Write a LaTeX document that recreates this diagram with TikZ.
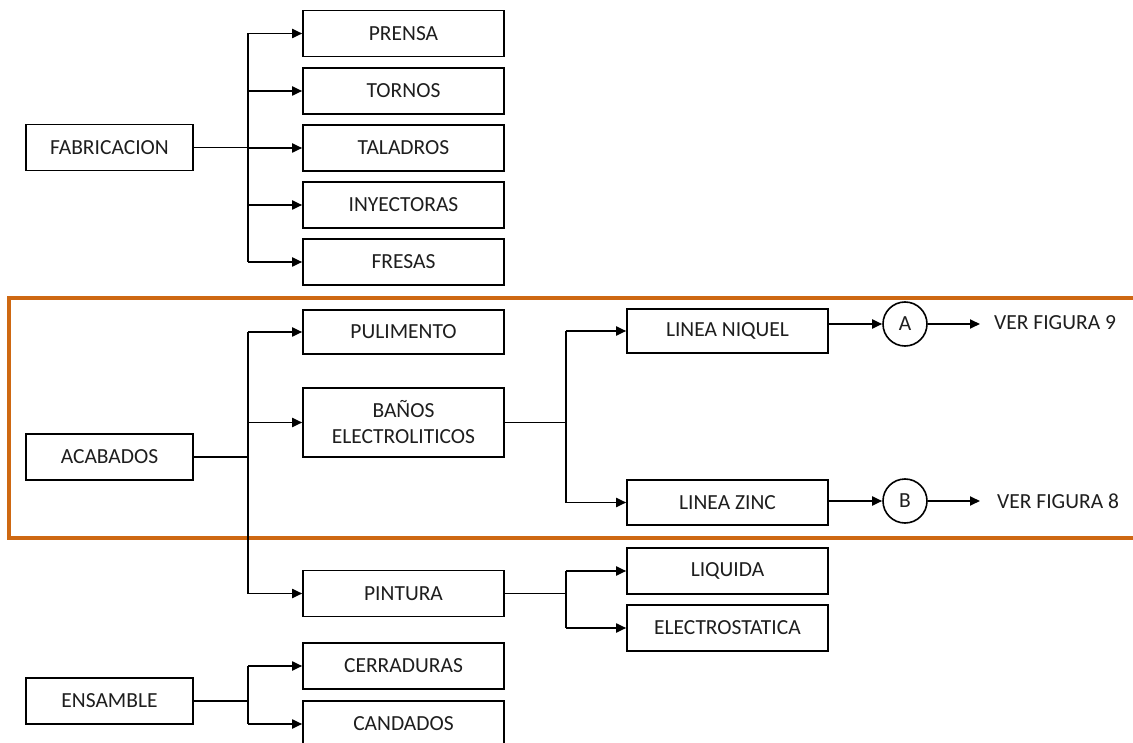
\documentclass[tikz,border=0pt]{standalone}
\usepackage{fontspec}
\setmainfont{Carlito}
\usetikzlibrary{arrows.meta}
\definecolor{frameorange}{RGB}{206,104,18}
\definecolor{ink}{RGB}{30,30,30}
\tikzset{
  box/.style={draw=black, line width=1.6pt, fill=white, minimum width=201pt, minimum height=46pt,
              inner sep=2pt, align=center, font=\fontsize{21.5}{26}\selectfont, text=ink},
  rootbox/.style={box, minimum width=167pt},
  tag/.style={draw=black, line width=1.6pt, circle, minimum size=44pt, inner sep=0pt,
              font=\fontsize{21.5}{24}\selectfont, text=ink},
  note/.style={anchor=west, inner sep=0pt, font=\fontsize{21.5}{24}\selectfont, text=ink},
  link/.style={line width=1.8pt, black},
  arr/.style={link, -{Triangle[length=10pt,width=9pt]}},
}
\begin{document}
\begin{tikzpicture}[x=1pt,y=-1pt]
\useasboundingbox (0,0) rectangle (1133,743);

% --- Fabricacion ---
\node[rootbox] (fab) at (109.5,147.5) {FABRICACION};
\node[box] (prensa)   at (403.5,33.5)  {PRENSA};
\node[box] (tornos)   at (403.5,91)    {TORNOS};
\node[box] (taladros) at (403.5,148)   {TALADROS};
\node[box] (inyect)   at (403.5,205)   {INYECTORAS};
\node[box] (fresas)   at (403.5,262)   {FRESAS};
\coordinate (jf) at (248,147.5);
\draw[link] (fab.east) -- (jf);
\draw[link] (jf |- prensa) -- (jf |- fresas);
\foreach \n in {prensa,tornos,taladros,inyect,fresas}
  \draw[arr] (jf |- \n) -- (\n.west);

% --- Acabados (framed group) ---
\draw[frameorange, line width=4pt] (9,298) rectangle (1145,538);
\node[rootbox] (acab) at (109.5,457) {ACABADOS};
\node[box, minimum height=44pt] (pul) at (403.5,332) {PULIMENTO};
\node[box, minimum height=69pt] (banos) at (403.5,422.5) {BAÑOS\\ELECTROLITICOS};
\node[box] (pint) at (403.5,593.5) {PINTURA};
\coordinate (ja) at (248,457);
\draw[link] (acab.east) -- (ja);
\draw[link] (ja |- pul) -- (ja |- pint);
\foreach \n in {pul,banos,pint}
  \draw[arr] (ja |- \n) -- (\n.west);

\node[box, minimum height=44pt] (niq) at (727.5,331) {LINEA NIQUEL};
\node[box, minimum height=45pt] (zinc) at (727.5,502.5) {LINEA ZINC};
\coordinate (jb) at (566,422.5);
\draw[link] (banos.east) -- (jb);
\draw[link] (jb |- niq) -- (jb |- zinc);
\foreach \n in {niq,zinc}
  \draw[arr] (jb |- \n) -- (\n.west);

\node[tag] (ta) at (905,324) {A};
\node[tag] (tb) at (905,501) {B};
\coordinate (ea) at (980,324);
\coordinate (eb) at (980,501);
\node[note] (va) at (994,323) {VER FIGURA 9};
\node[note] (vb) at (997,501) {VER FIGURA 8};
\draw[arr] (niq.east |- ta) -- (ta.west);
\draw[arr] (zinc.east |- tb) -- (tb.west);
\draw[arr] (ta.east) -- (ea);
\draw[arr] (tb.east) -- (eb);

% --- Pintura ---
\node[box] (liq) at (727.5,571) {LIQUIDA};
\node[box] (elec) at (727.5,628) {ELECTROSTATICA};
\coordinate (jp) at (566,593.5);
\draw[link] (pint.east) -- (jp);
\draw[link] (jp |- liq) -- (jp |- elec);
\foreach \n in {liq,elec}
  \draw[arr] (jp |- \n) -- (\n.west);

% --- Ensamble ---
\node[rootbox] (ens) at (109.5,701) {ENSAMBLE};
\node[box] (cerr) at (403.5,666) {CERRADURAS};
\node[box] (cand) at (403.5,724) {CANDADOS};
\coordinate (je) at (248,701);
\draw[link] (ens.east) -- (je);
\draw[link] (je |- cerr) -- (je |- cand);
\foreach \n in {cerr,cand}
  \draw[arr] (je |- \n) -- (\n.west);
\end{tikzpicture}
\end{document}
